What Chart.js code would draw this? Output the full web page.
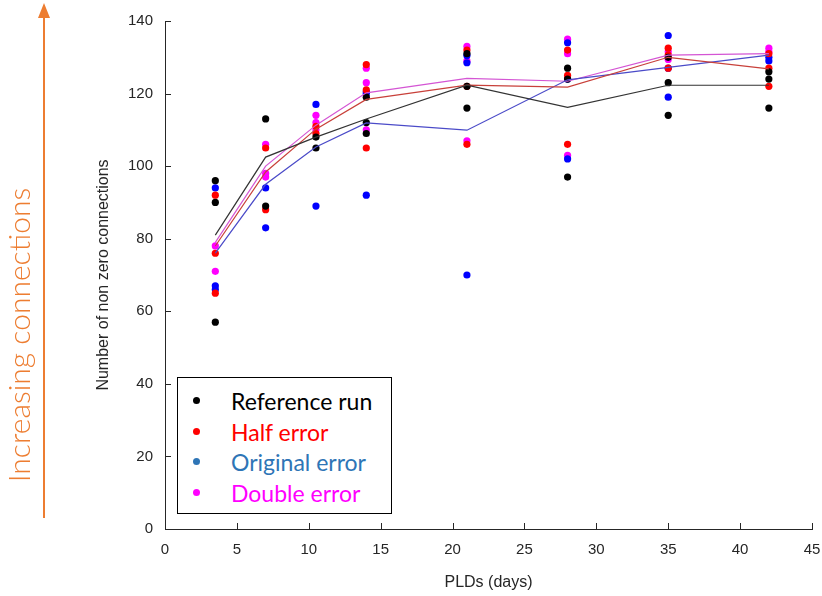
<!DOCTYPE html>
<html>
<head>
<meta charset="utf-8">
<script src="https://cdn.jsdelivr.net/npm/chart.js@4.4.0/dist/chart.umd.min.js"></script>
<style>
  html, body { margin: 0; padding: 0; background: #fff; }
  #wrap { position: relative; width: 822px; height: 596px; }
  #myChart { position: absolute; left: 0; top: 0; }
  .side-label {
    position: absolute; left: 18px; top: 335px;
    transform: translate(-50%, -50%) rotate(-90deg);
    white-space: nowrap; color: #ed7d31;
    font-family: Lato, "Open Sans", sans-serif; font-size: 30px; font-weight: 300;
  }
  .arrow-shaft { position: absolute; left: 43px; top: 16px; width: 2px; height: 502px; background: #ed7d31; }
  .arrow-head {
    position: absolute; left: 38px; top: 3px; width: 0; height: 0;
    border-left: 6px solid transparent; border-right: 6px solid transparent;
    border-bottom: 15px solid #ed7d31;
  }
  #legend {
    position: absolute; left: 177px; top: 377px; width: 213px; height: 135px;
    border: 1.5px solid #000; background: #fff;
    font-family: Lato, "Open Sans", sans-serif; font-size: 23px;
  }
  #legend .row { position: absolute; left: 0; height: 30px; line-height: 30px; white-space: nowrap; }
  #legend .dot { position: absolute; left: 15px; top: 11px; width: 7px; height: 7px; border-radius: 50%; }
  #legend .txt { position: absolute; left: 53px; top: 0; }
</style>
</head>
<body>
<div id="wrap">
  <canvas id="myChart" width="822" height="596"></canvas>
  <div class="arrow-shaft"></div>
  <div class="arrow-head"></div>
  <div class="side-label">Increasing connections</div>
  <div id="legend"></div>
</div>
<script>
// PLD values (days)
const plds = [3.5, 7, 10.5, 14, 21, 28, 35, 42];

// individual runs at each PLD
const refRuns = [[96, 90, 57], [113, 89], [108, 105], [119, 112, 109], [131, 122, 116], [127, 124, 97], [130, 123, 114], [126, 124, 116]];
const halfRuns = [[92, 76, 65], [105, 88], [111, 109], [128, 121, 105], [132, 122, 106], [132, 125, 106], [132.5, 130.6, 127], [131, 127, 122]];
const origRuns = [[94, 67, 66], [94, 83], [117, 89], [120.5, 120, 92], [130.5, 128.5, 70], [134, 124, 102], [136, 127, 119], [130, 129]];
const doubleRuns = [[78, 71], [106, 98, 97], [114, 112, 110], [127, 123, 110], [133, 129, 107], [135, 131, 103], [131.5, 129.4], [132.5, 131.5]];

// mean lines
const refMean = [81, 102.5, 108, 113, 122.3, 116.2, 122.3, 122.3];
const halfMean = [78, 98.4, 110.2, 118.4, 122.3, 121.8, 130, 126.8];
const origMean = [76, 95, 105.3, 111.9, 109.9, 123.8, 127.2, 130.6];
const doubleMean = [79, 100, 111.3, 120.2, 124.2, 123.4, 130.6, 131];

const xTicks = [0, 5, 10, 15, 20, 25, 30, 35, 40, 45];
const yTicks = [0, 20, 40, 60, 80, 100, 120, 140];

const seriesNames = ['Reference run', 'Half error', 'Original error', 'Double error'];
const pointColors = ['#000000', '#ff0000', '#0000ff', '#ff00ff'];
const lineColors = ['#333333', '#c8403a', '#4a4ac8', '#d455d4'];
const legendColors = ['#000000', '#ff0000', '#2e75b6', '#ff00ff'];

function toPoints(runs) {
    const pts = [];
    runs.forEach((vals, i) => vals.forEach(v => pts.push({ x: plds[i], y: v })));
    return pts;
}
function toLine(means) {
    return means.map((v, i) => ({ x: plds[i], y: v }));
}

const allRuns = [refRuns, halfRuns, origRuns, doubleRuns];
const allMeans = [refMean, halfMean, origMean, doubleMean];

const datasets = [];
allRuns.forEach((runs, k) => {
    datasets.push({
        label: seriesNames[k], type: 'scatter', data: toPoints(runs),
        pointRadius: 3.6, pointBackgroundColor: pointColors[k], pointBorderWidth: 0,
        showLine: false, order: 2
    });
});
allMeans.forEach((means, k) => {
    datasets.push({
        label: seriesNames[k] + ' mean', type: 'line', data: toLine(means),
        borderColor: lineColors[k], borderWidth: 1.2, pointRadius: 0,
        fill: false, tension: 0, order: 1
    });
});

// MATLAB style inward tick marks
const innerTicks = {
    id: 'innerTicks',
    afterDraw(chart) {
        const ctx = chart.ctx, a = chart.chartArea;
        const xs = chart.scales.x, ys = chart.scales.y;
        ctx.save();
        ctx.strokeStyle = '#262626';
        ctx.lineWidth = 1;
        ctx.beginPath();
        xTicks.forEach(t => {
            const px = Math.round(xs.getPixelForValue(t)) + 0.5;
            ctx.moveTo(px, a.bottom); ctx.lineTo(px, a.bottom - 6);
        });
        yTicks.forEach(t => {
            const py = Math.round(ys.getPixelForValue(t)) + 0.5;
            ctx.moveTo(a.left, py); ctx.lineTo(a.left + 6, py);
        });
        ctx.stroke();
        ctx.restore();
    }
};

const tickFont = { family: 'Liberation Sans, Arial, sans-serif', size: 15 };

new Chart(document.getElementById('myChart').getContext('2d'), {
    type: 'scatter',
    data: { datasets: datasets },
    options: {
        responsive: false,
        animation: false,
        layout: { padding: { left: 90, right: 0, top: 21, bottom: 0 } },
        plugins: { legend: { display: false }, tooltip: { enabled: false } },
        scales: {
            x: {
                type: 'linear', min: 0, max: 45,
                afterBuildTicks: s => { s.ticks = xTicks.map(v => ({ value: v })); },
                afterFit: s => { s.height = 67; s.paddingRight = 10; },
                grid: { display: false, drawTicks: false },
                border: { display: true, color: '#262626', width: 1 },
                ticks: { color: '#262626', font: tickFont, padding: 12, maxRotation: 0 },
                title: { display: true, text: 'PLDs (days)', color: '#262626', font: { family: 'Liberation Sans, Arial, sans-serif', size: 16 }, padding: { top: 5 } }
            },
            y: {
                type: 'linear', min: 0, max: 140,
                afterBuildTicks: s => { s.ticks = yTicks.map(v => ({ value: v })); },
                afterFit: s => { s.width = 75; },
                grid: { display: false, drawTicks: false },
                border: { display: true, color: '#262626', width: 1 },
                ticks: { color: '#262626', font: tickFont, padding: 12 },
                title: { display: true, text: 'Number of non zero connections', color: '#262626', font: { family: 'Liberation Sans, Arial, sans-serif', size: 16 }, padding: { top: 4, bottom: 0 } }
            }
        }
    },
    plugins: [innerTicks]
});

// legend box
const legendEl = document.getElementById('legend');
seriesNames.forEach((name, k) => {
    const row = document.createElement('div');
    row.className = 'row';
    row.style.top = (8 + k * 30.5) + 'px';
    row.innerHTML = '<span class="dot" style="background:' + legendColors[k] + '"></span>' +
        '<span class="txt" style="color:' + legendColors[k] + '">' + name + '</span>';
    legendEl.appendChild(row);
});
</script>
</body>
</html>
